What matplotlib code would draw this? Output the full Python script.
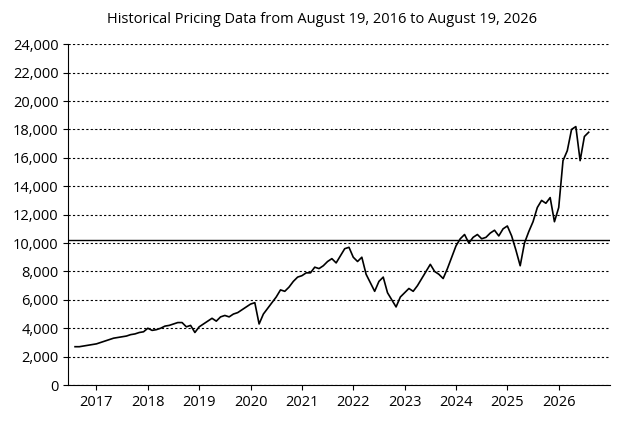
import numpy as np
import matplotlib.pyplot as plt

# monthly closing values, Aug 2016 .. Aug 2026
prices = [
    2700, 2700, 2750, 2800, 2850,
    2900, 3000, 3100, 3200, 3300, 3350, 3400, 3450, 3550, 3600, 3700, 3750,
    4000, 3850, 3900, 4000, 4150, 4200, 4300, 4400, 4400, 4100, 4200, 3700,
    4100, 4300, 4500, 4700, 4500, 4800, 4900, 4800, 5000, 5100, 5300, 5500,
    5700, 5800, 4300, 5000, 5400, 5800, 6200, 6700, 6600, 6900, 7300, 7600,
    7700, 7900, 7900, 8300, 8200, 8400, 8700, 8900, 8600, 9100, 9600, 9700,
    9000, 8700, 9000, 7800, 7200, 6600, 7300, 7600, 6500, 6000, 5500, 6200,
    6500, 6800, 6600, 7000, 7500, 8000, 8500, 8000, 7800, 7500, 8200, 9000,
    9800, 10300, 10600, 10000, 10400, 10600, 10300, 10400, 10700, 10900, 10500, 11000,
    11200, 10500, 9500, 8400, 10000, 10800, 11500, 12500, 13000, 12800, 13200, 11500,
    12500, 15800, 16500, 18000, 18200, 15800, 17500, 17800,
]
start_year = 2016 + 7 / 12
years = start_year + np.arange(len(prices)) / 12
ref_level = 10200
tick_years = list(range(2017, 2027))

plt.rcParams['font.family'] = ['Open Sans', 'DejaVu Sans']
fig = plt.figure(figsize=(6.2, 4.25), dpi=100)
ax = fig.add_axes([0.11, 0.094, 0.874, 0.802])

ax.plot(years, prices, color='black', lw=1.2)
ax.axhline(ref_level, color='black', lw=1)

ax.set_ylim(0, 24000)
ax.set_yticks(range(0, 24001, 2000))
ax.set_yticklabels([f'{v:,}' for v in range(0, 24001, 2000)])
ax.set_xlim(2016.45, 2027.0)
ax.set_xticks(tick_years)
ax.set_xticklabels([str(y) for y in tick_years])
ax.yaxis.grid(True, linestyle=(0, (2, 2)), color='black', lw=0.8)
ax.tick_params(labelsize=10.5)
for s in ['top', 'right']:
    ax.spines[s].set_visible(False)

fig.text(0.52, 0.955, 'Historical Pricing Data from August 19, 2016 to August 19, 2026',
         ha='center', va='center', fontsize=10.5)
plt.savefig('out.png')
